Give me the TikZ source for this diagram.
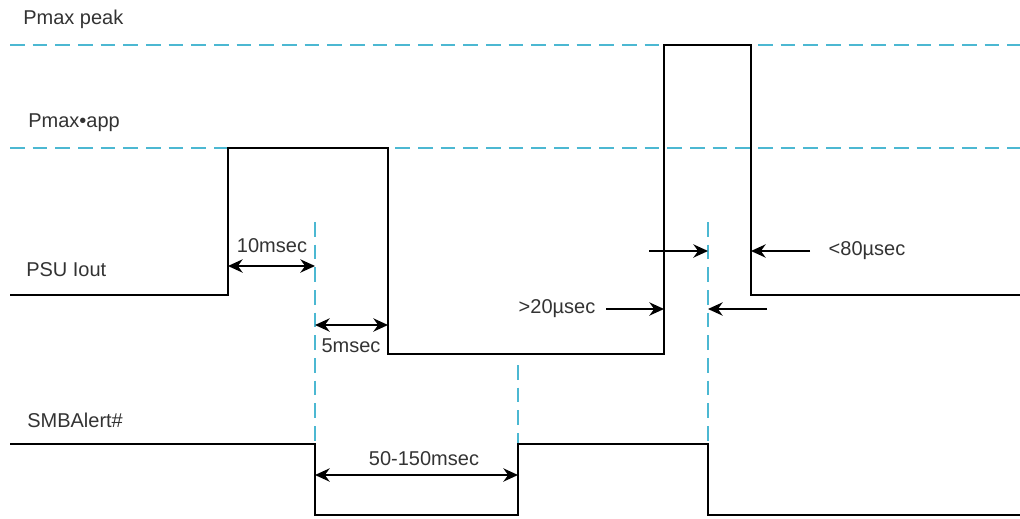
\documentclass[tikz,border=0pt]{standalone}
\usepackage{fontspec}
\setmainfont{Liberation Sans}
\usetikzlibrary{arrows.meta}
\definecolor{refblue}{HTML}{4CB8D2}
\definecolor{txtgray}{HTML}{333333}
\begin{document}
\begin{tikzpicture}[x=0.75pt,y=-0.75pt,
  sig/.style={line width=1.8pt,black,line join=miter},
  ref/.style={line width=1.3pt,refblue,dash pattern=on 11pt off 6pt},
  dim/.style={line width=1.3pt,black,-{Stealth[length=11pt,width=10pt]}},
  ddim/.style={line width=1.3pt,black,{Stealth[length=11pt,width=10pt]}-{Stealth[length=11pt,width=10pt]}},
  lbl/.style={font=\fontsize{15pt}{17pt}\selectfont,text=txtgray,inner sep=0pt}]
\useasboundingbox (0,0) rectangle (1020,518);
% reference levels
\coordinate (pkL) at (10,45); \coordinate (pkR) at (1020,45);
\coordinate (apL) at (10,148); \coordinate (apR) at (1020,148);
\draw[ref] (pkL) -- (pkR);
\draw[ref] (apL) -- (apR);
% vertical dashed markers
\coordinate (v1t) at (315,222); \coordinate (v1b) at (315,445);
\coordinate (v2t) at (518,365); \coordinate (v2b) at (518,445);
\coordinate (v3t) at (708,222); \coordinate (v3b) at (708,445);
\draw[ref] (v1t) -- (v1b);
\draw[ref] (v2t) -- (v2b);
\draw[ref] (v3t) -- (v3b);
% PSU Iout waveform
\coordinate (i0) at (10,295);
\coordinate (i1) at (228,295);
\coordinate (i2) at (228,148);
\coordinate (i3) at (388,148);
\coordinate (i4) at (388,354);
\coordinate (i5) at (664,354);
\coordinate (i6) at (664,45);
\coordinate (i7) at (751,45);
\coordinate (i8) at (751,295);
\coordinate (i9) at (1020,295);
\draw[sig] (i0) -- (i1) -- (i2) -- (i3) -- (i4) -- (i5) -- (i6) -- (i7) -- (i8) -- (i9);
% SMBAlert# waveform
\coordinate (s0) at (10,444);
\coordinate (s1) at (315,444);
\coordinate (s2) at (315,515);
\coordinate (s3) at (518,515);
\coordinate (s4) at (518,444);
\coordinate (s5) at (708,444);
\coordinate (s6) at (708,515);
\coordinate (s7) at (1020,515);
\draw[sig,line width=1.5pt] (s0) -- (s1) -- (s2) -- (s3) -- (s4) -- (s5) -- (s6) -- (s7);
% labels
\node[lbl,anchor=west] (lpk) at (23,19) {Pmax peak};
\node[lbl,anchor=west] (lap) at (28,123) {Pmax•app};
\node[lbl,anchor=west] (lpsu) at (26,270) {PSU Iout};
\node[lbl,anchor=west] (lsmb) at (27,420) {SMBAlert\#};
\node[lbl] (l10) at (272,246) {10msec};
\node[lbl] (l5) at (351,346) {5msec};
\node[lbl] (l50) at (424,459) {50-150msec};
\node[lbl] (l20) at (557,309) {>20µsec};
\node[lbl] (l80) at (867,251) {<80µsec};
% dimension arrows
\coordinate (a10l) at (228,266); \coordinate (a10r) at (315,266);
\draw[ddim] (a10l) -- (a10r);
\coordinate (a5l) at (315,325); \coordinate (a5r) at (388,325);
\draw[ddim] (a5l) -- (a5r);
\coordinate (a50l) at (315,475); \coordinate (a50r) at (518,475);
\draw[ddim] (a50l) -- (a50r);
\coordinate (a20s) at (606,309); \coordinate (a20e) at (664,309);
\draw[dim] (a20s) -- (a20e);
\coordinate (b1s) at (649,251); \coordinate (b1e) at (708,251);
\draw[dim] (b1s) -- (b1e);
\coordinate (b2s) at (767,309); \coordinate (b2e) at (708,309);
\draw[dim] (b2s) -- (b2e);
\coordinate (a80s) at (810,251); \coordinate (a80e) at (751,251);
\draw[dim] (a80s) -- (a80e);
\end{tikzpicture}
\end{document}
